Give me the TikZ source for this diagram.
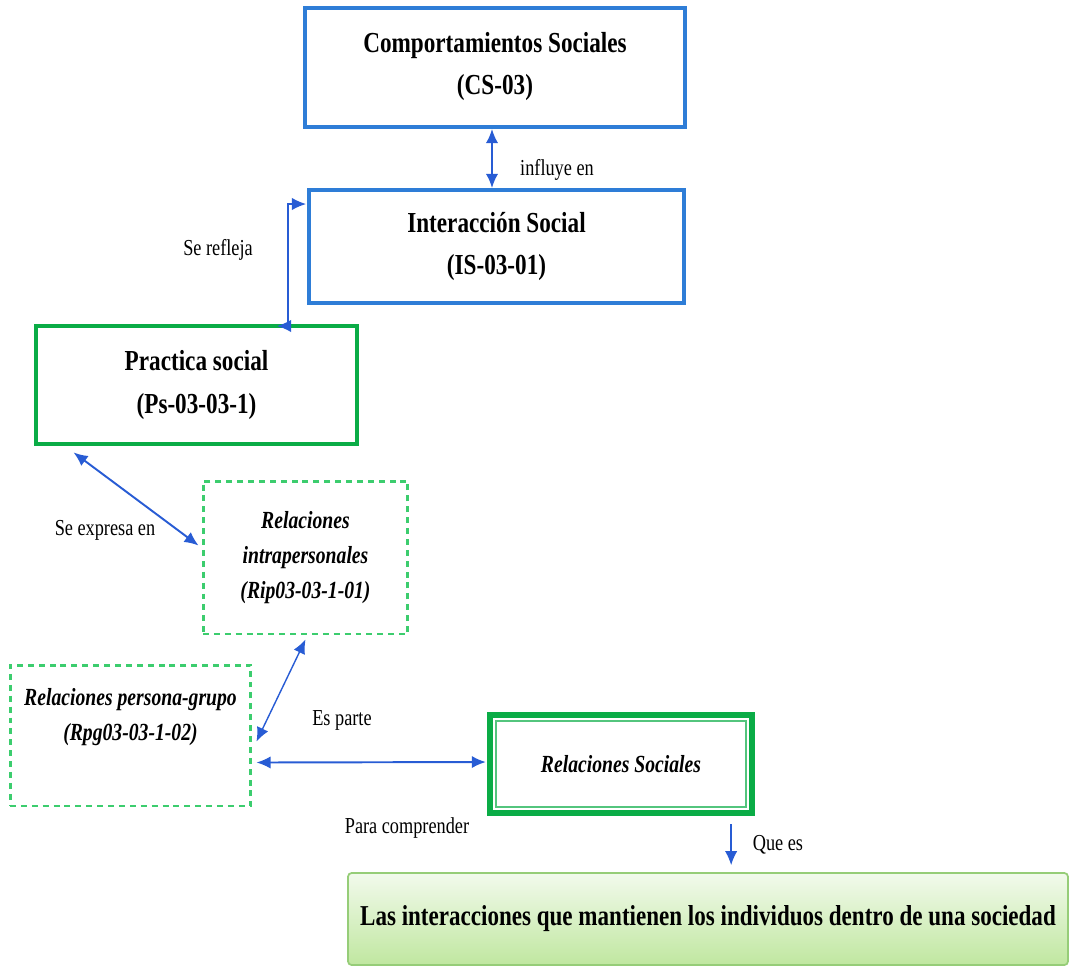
\documentclass[tikz,border=0pt]{standalone}
\usepackage{fontspec}
\setmainfont{Liberation Serif}[FakeStretch=0.8]
\usetikzlibrary{positioning,calc,arrows.meta}

\definecolor{boxblue}{RGB}{46,125,215}
\definecolor{psgreen}{RGB}{10,172,70}
\definecolor{dashgreen}{RGB}{60,205,110}
\definecolor{arrblue}{RGB}{40,92,212}
\definecolor{deftop}{RGB}{242,250,236}
\definecolor{defbot}{RGB}{192,231,160}
\definecolor{defline}{RGB}{150,205,120}

\begin{document}
\begin{tikzpicture}[x=0.02cm,y=-0.02cm,
    every node/.style={font=\fontsize{13}{15}\selectfont},
    bluebox/.style={draw=boxblue,line width=2.3pt,align=center,
        font=\bfseries\fontsize{16.5}{24}\selectfont},
    greenbox/.style={draw=psgreen,line width=2.8pt,align=center,
        font=\bfseries\fontsize{16.5}{24}\selectfont},
    dashbox/.style={draw=dashgreen,line width=1.7pt,dash pattern=on 3.4pt off 2.8pt,
        align=center,font=\bfseries\itshape\fontsize{14}{20}\selectfont},
    link/.style={draw=arrblue,line width=1.1pt,{Latex[length=8pt,width=7pt]}-{Latex[length=8pt,width=7pt]}},
    onelink/.style={draw=arrblue,line width=1.1pt,-{Latex[length=8pt,width=7pt]}}]

    \useasboundingbox (0,0) rectangle (1069,968);

    % Upper concepts
    \node[bluebox,minimum width=7.6cm,minimum height=2.38cm] (cs) at (495,67.5)
        {\mbox{}\\[-14pt]Comportamientos Sociales\\(CS-03)};
    \node[bluebox,minimum width=7.5cm,minimum height=2.26cm] (is) at (496.5,246.5)
        {Interacción Social\\(IS-03-01)};
    \node[greenbox,minimum width=6.42cm,minimum height=2.36cm] (ps) at (196.5,385)
        {Practica  social\\(Ps-03-03-1)};

    % Relations (dashed)
    \node[dashbox,minimum width=4.1cm,minimum height=3.06cm] (rip) at (305.5,557.5)
        {Relaciones\\intrapersonales\\(Rip03-03-1-01)};
    \node[dashbox,minimum width=4.82cm,minimum height=2.82cm] (rpg) at (130.5,735.5)
        {Relaciones persona-grupo\\(Rpg03-03-1-02)\\[4pt]\mbox{}};

    % Social relations, double frame
    \node[draw=psgreen,line width=3.6pt,minimum width=5.24cm,minimum height=1.96cm,
        font=\bfseries\itshape\fontsize{14}{20}\selectfont] (rs) at (621,764)
        {Relaciones Sociales};
    \draw[psgreen!70,line width=1pt] ($(rs.south west)+(9,-9)$) rectangle ($(rs.north east)+(-9,9)$);

    % Definition
    \node[draw=defline,line width=1pt,rounded corners=2pt,top color=deftop,bottom color=defbot,
        minimum width=14.4cm,minimum height=1.84cm,
        font=\bfseries\fontsize{16.4}{20}\selectfont] (def) at (708,919)
        {Las interacciones que mantienen los individuos dentro de una sociedad};

    % Connectors
    \draw[link] (cs.south -| 492,0) -- (is.north -| 492,0);
    \coordinate (reflA) at (277,326);
    \coordinate (reflB) at (306,204);
    \draw[link,line width=0.7pt] (reflA) -- ++(11,0) |- (reflB);
    \draw[link] ($(ps.south west)+(40,6)$) -- ($(rip.west)+(-3,-12)$);
    \draw[link,line width=0.8pt] ($(rip.south)+(0,4)$) -- ($(rpg.east)+(4,6)$);
    \draw[link] ($(rpg.east)+(4,27)$) -- ($(rs.west)+(-1,-2)$);
    \draw[onelink,line width=0.8pt] ($(rs.south east)+(-24,8)$) -- ++(0,41);

    % Link labels
    \foreach \x/\y/\t [count=\k] in {557/170/influye en, 218/250/Se refleja,
        105/530/Se expresa en, 342/720/Es parte, 407/828/Para comprender, 778/845/Que es}
        \node (lab\k) at (\x,\y) {\t};

\end{tikzpicture}
\end{document}
